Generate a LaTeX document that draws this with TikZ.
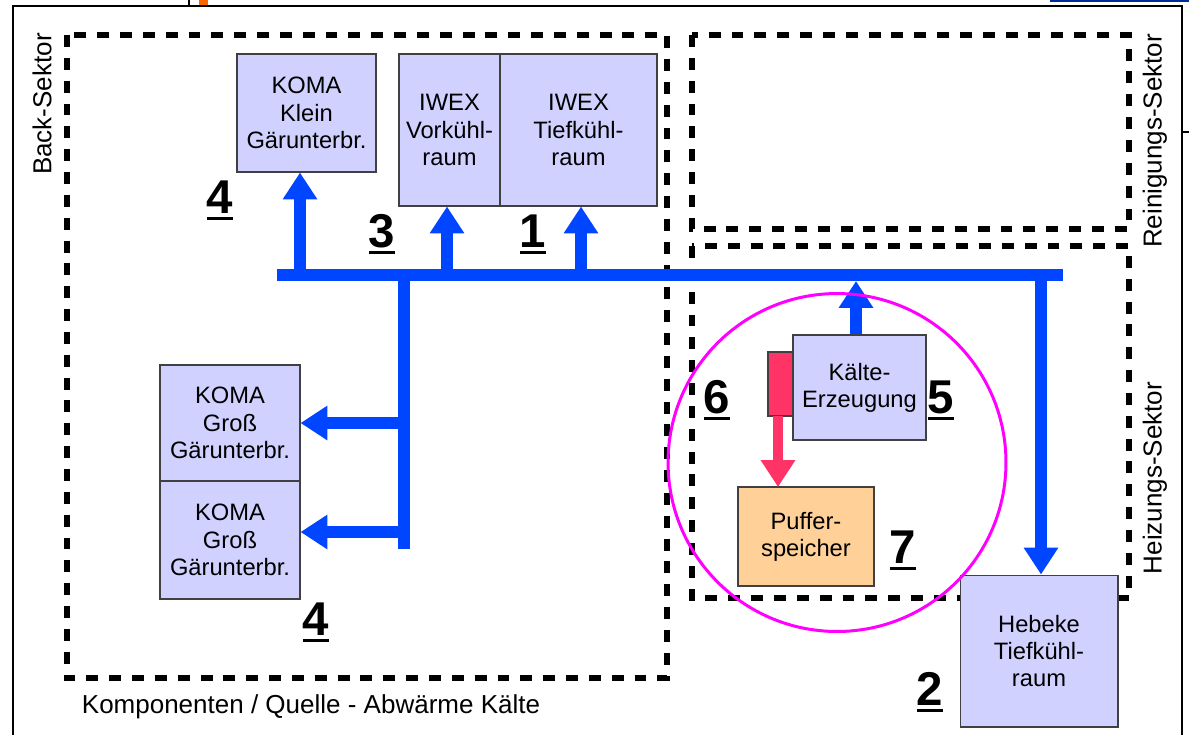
\documentclass[tikz,border=0pt]{standalone}
\usepackage{fontspec}
\setmainfont{Liberation Sans}
\usetikzlibrary{arrows.meta}
\definecolor{PipeClr}{rgb}{0,0.27,1}
\definecolor{RoomClr}{rgb}{0.82,0.82,1}
\definecolor{HeatClr}{rgb}{1,0.2,0.4}
\definecolor{TankClr}{rgb}{1,0.82,0.6}
\definecolor{RingClr}{rgb}{1,0,1}
\definecolor{FrameOrange}{rgb}{1,0.4,0}
\newcommand{\ulnum}[1]{\setbox0\hbox{#1}\rlap{\rule[-4.2pt]{\wd0}{1.7pt}}\box0}

\begin{document}
\begin{tikzpicture}[x=0.02cm,y=-0.02cm,
  room/.style={draw=black!75,line width=0.6pt,fill=RoomClr,inner sep=0pt,align=center,
    font=\fontsize{13.5}{15.5}\selectfont},
  sector/.style={line width=2.9pt,dash pattern=on 6.8pt off 6.2pt},
  pipe/.style={PipeClr,line width=6.8pt},
  pipeto/.style={pipe,-{Triangle[width=18.7pt,length=15.3pt]}},
  heatto/.style={HeatClr,line width=6.2pt,-{Triangle[width=18.7pt,length=15.3pt]}},
  num/.style={anchor=base,inner sep=0pt,font=\fontsize{27}{27}\selectfont\bfseries},
  sectorname/.style={inner sep=0pt,font=\fontsize{14.8}{16}\selectfont}]
\useasboundingbox (0,0) rectangle (1189,735);

\draw[line width=1.2pt] (13,735) -- (13,6) -- (1182,6) -- (1182,735);
\draw[line width=1.2pt] (189,0) -- (189,6) (1182,132) -- (1189,132);
\fill[FrameOrange] (199,0) rectangle (208,5);
\fill[PipeClr!60!black] (1050,0) rectangle (1189,1.5);

\draw[sector] (67,35) rectangle (667,678);
\draw[sector] (692,35) rectangle (1129,229);
\draw[sector] (692,246) rectangle (1129,598);

\node[sectorname,rotate=90] (backName) at (42,104) {Back-Sektor};
\node[sectorname,rotate=90] (cleanName) at (1155,141) {Reinigungs-Sektor};
\node[sectorname,rotate=90] (heatName) at (1155,478) {Heizungs-Sektor};
\node[sectorname] (sourceName) at (311,707) {Komponenten / Quelle - Abwärme Kälte};

\node[room,minimum width=2.78cm,minimum height=2.36cm] (kleinRoom) at (306.5,113) {KOMA\\Klein\\Gärunterbr.};
\node[room,minimum width=2.02cm,minimum height=3.04cm] (vorRoom) at (449.5,130) {IWEX\\Vorkühl-\\raum};
\node[room,minimum width=3.14cm,minimum height=3.04cm] (tiefRoom) at (578.5,130) {IWEX\\Tiefkühl-\\raum};
\node[room,minimum width=2.8cm,minimum height=2.32cm] (grossRoomA) at (230,423) {KOMA\\Groß\\Gärunterbr.};
\node[room,minimum width=2.8cm,minimum height=2.36cm] (grossRoomB) at (230,540) {KOMA\\Groß\\Gärunterbr.};
\node[room,minimum width=2.66cm,minimum height=2.1cm] (kaelteUnit) at (859.5,387.5) {Kälte-\\Erzeugung};
\node[room,fill=HeatClr,minimum width=0.5cm,minimum height=1.28cm] (heatOut) at (780.5,384) {};
\node[room,fill=TankClr,minimum width=2.72cm,minimum height=1.98cm] (pufferTank) at (806,536.5) {Puffer-\\speicher};
\node[room,minimum width=3.16cm,minimum height=3.04cm] (hebekeRoom) at (1039,651) {Hebeke\\Tiefkühl-\\raum};

\coordinate (busW) at (277,275);
\coordinate (busE) at (1063,275);
\coordinate (busKlein) at (300,275);
\coordinate (busVor) at (447,275);
\coordinate (busTief) at (581,275);
\coordinate (busTrunk) at (404,275);
\coordinate (trunkEnd) at (404,549);
\coordinate (busKaelte) at (856,281);
\coordinate (busHebeke) at (1041,275);

\draw[pipe] (busW) -- (busE);
\draw[pipe] (busTrunk) -- (trunkEnd);
\draw[pipeto] (busKlein) -- (busKlein |- kleinRoom.south);
\draw[pipeto] (busVor) -- (busVor |- vorRoom.south);
\draw[pipeto] (busTief) -- (busTief |- tiefRoom.south);
\draw[pipeto] (404,423) -- (grossRoomA.east);
\draw[pipeto] (404,532) -- (grossRoomB.east |- 0,532);
\draw[pipeto] (busKaelte |- kaelteUnit.north) -- (busKaelte);
\draw[pipeto] (busHebeke) -- (busHebeke |- hebekeRoom.north);
\draw[heatto] (778,416) -- (778,487);

\draw[RingClr,line width=1.7pt] (837,462.5) circle [radius=3.38cm];

\node[num] (numA) at (220,213) {\ulnum{4}};
\node[num] (numB) at (382,247) {\ulnum{3}};
\node[num] (numC) at (533,247) {\ulnum{1}};
\node[num] (numD) at (316,635) {\ulnum{4}};
\node[num] (numE) at (717,413) {\ulnum{6}};
\node[num] (numF) at (941,413) {\ulnum{5}};
\node[num] (numG) at (903,563) {\ulnum{7}};
\node[num] (numH) at (930,705) {\ulnum{2}};
\end{tikzpicture}
\end{document}
